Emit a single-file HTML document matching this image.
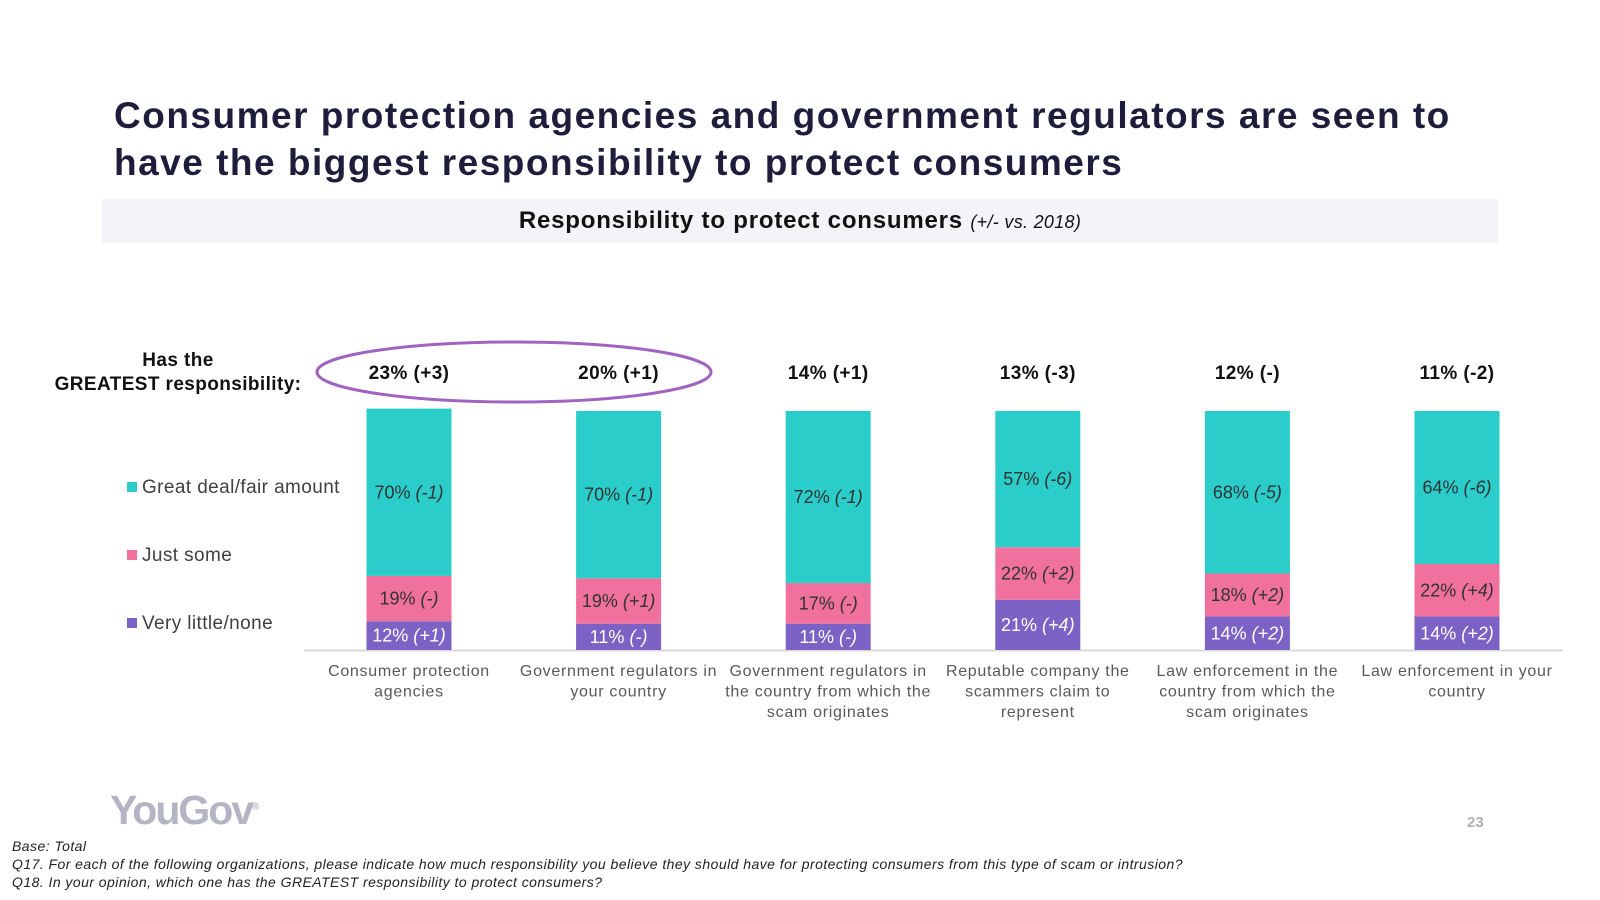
<!DOCTYPE html>
<html><head><meta charset="utf-8"><style>
body{margin:0;width:1600px;height:900px;background:#fff;font-family:"Liberation Sans",sans-serif;overflow:hidden;position:relative}
.t{position:absolute;left:114px;top:92px;font-size:37px;font-weight:bold;color:#1e1e3c;line-height:47px;letter-spacing:1.5px}
.sub{position:absolute;left:102px;top:199px;width:1396px;height:44px;background:#f4f4f8;text-align:center;line-height:44px;font-size:24px;font-weight:bold;color:#111;letter-spacing:0.8px}
.foot{position:absolute;left:12px;font-size:14px;font-style:italic;color:#222;letter-spacing:0.45px}
</style></head><body>
<div class="t">Consumer protection agencies and government regulators are seen to<br>have the biggest responsibility to protect consumers</div>
<div class="sub">Responsibility to protect consumers <span style="font-weight:normal;font-style:italic;font-size:18px;letter-spacing:0.3px">(+/- vs. 2018)</span></div>
<svg id="c" width="1600" height="900" style="position:absolute;left:0;top:0"></svg>
<div style="position:absolute;left:110px;top:787px;font-size:41px;font-weight:bold;color:#b4b4c4;letter-spacing:-2px">YouGov<sup style="font-size:10px">®</sup></div>
<div style="position:absolute;left:1467px;top:814px;font-size:15px;font-weight:bold;color:#b0b0b0">23</div>
<div class="foot" style="top:838px">Base: Total</div>
<div class="foot" style="top:856px">Q17. For each of the following organizations, please indicate how much responsibility you believe they should have for protecting consumers from this type of scam or intrusion?</div>
<div class="foot" style="top:874px">Q18. In your opinion, which one has the GREATEST responsibility to protect consumers?</div>
<script>
const categories=[["Consumer protection","agencies"],["Government regulators in","your country"],["Government regulators in","the country from which the","scam originates"],["Reputable company the","scammers claim to","represent"],["Law enforcement in the","country from which the","scam originates"],["Law enforcement in your","country"]];
const greatest=["23% (+3)","20% (+1)","14% (+1)","13% (-3)","12% (-)","11% (-2)"];
const veryLittle=[12,11,11,21,14,14];
const veryLittleChg=["(+1)","(-)","(-)","(+4)","(+2)","(+2)"];
const justSome=[19,19,17,22,18,22];
const justSomeChg=["(-)","(+1)","(-)","(+2)","(+2)","(+4)"];
const greatDeal=[70,70,72,57,68,64];
const greatDealChg=["(-1)","(-1)","(-1)","(-6)","(-5)","(-6)"];
const seriesNames=["Great deal/fair amount","Just some","Very little/none"];

const svg=document.getElementById('c');const NS='http://www.w3.org/2000/svg';
function mk(t,a,p){const e=document.createElementNS(NS,t);for(const k in a)e.setAttribute(k,a[k]);(p||svg).appendChild(e);return e;}
const base=650,pxPer=2.39,x0=409,step=209.6,bw=85;
const xc=i=>x0+i*step, h=v=>v*pxPer;
let ax=mk('line',{x1:304,x2:1563,y1:base+0.5,y2:base+0.5,stroke:'#d9d9d9','stroke-width':2});


const series=[[veryLittle,veryLittleChg,'#7b62c4','#fff','very-little'],[justSome,justSomeChg,'#f0719e','#333','just-some'],[greatDeal,greatDealChg,'#2acdc9','#333','great-deal']];
categories.forEach((cat,i)=>{
  let y=base;
  series.forEach(s=>{
    const v=s[0][i],hh=h(v);y-=hh;
    const r=mk('rect',{x:xc(i)-bw/2,y:y,width:bw,height:hh,fill:s[2]});
    
    
    const t=mk('text',{x:xc(i),y:y+hh/2+6,'text-anchor':'middle','font-size':18,fill:s[3]});
    
    
    t.textContent=v+'% ';
    const ts=mk('tspan',{'font-style':'italic'},t);ts.textContent=s[1][i];
  });
  const g=mk('text',{x:xc(i),y:379,'text-anchor':'middle','font-size':19,'font-weight':'bold',fill:'#111','letter-spacing':0.4});
  
  
  g.textContent=greatest[i];
  cat.forEach((ln,j)=>{
    const c=mk('text',{x:xc(i),y:676+j*20.4,'text-anchor':'middle','font-size':16,fill:'#595959','letter-spacing':0.7});
    
    
    c.textContent=ln;
  });
});
const el=mk('ellipse',{cx:514,cy:372,rx:197,ry:30,fill:'none',stroke:'#a064c0','stroke-width':3});


["Has the","GREATEST responsibility:"].forEach((s,j)=>{
  const t=mk('text',{x:178,y:366+j*24,'text-anchor':'middle','font-size':19,'font-weight':'bold',fill:'#111','letter-spacing':0.4});
  
  
  t.textContent=s;
});
const legCol=['#2acdc9','#f0719e','#7b62c4'],legY=[487,555,623];
seriesNames.forEach((n,j)=>{
  const r=mk('rect',{x:127,y:legY[j]-5,width:10,height:10,fill:legCol[j]});
  
  
  const t=mk('text',{x:142,y:legY[j]+6,'font-size':19,fill:'#404040','letter-spacing':0.4});
  
  
  t.textContent=n;
});
</script>
</body></html>
